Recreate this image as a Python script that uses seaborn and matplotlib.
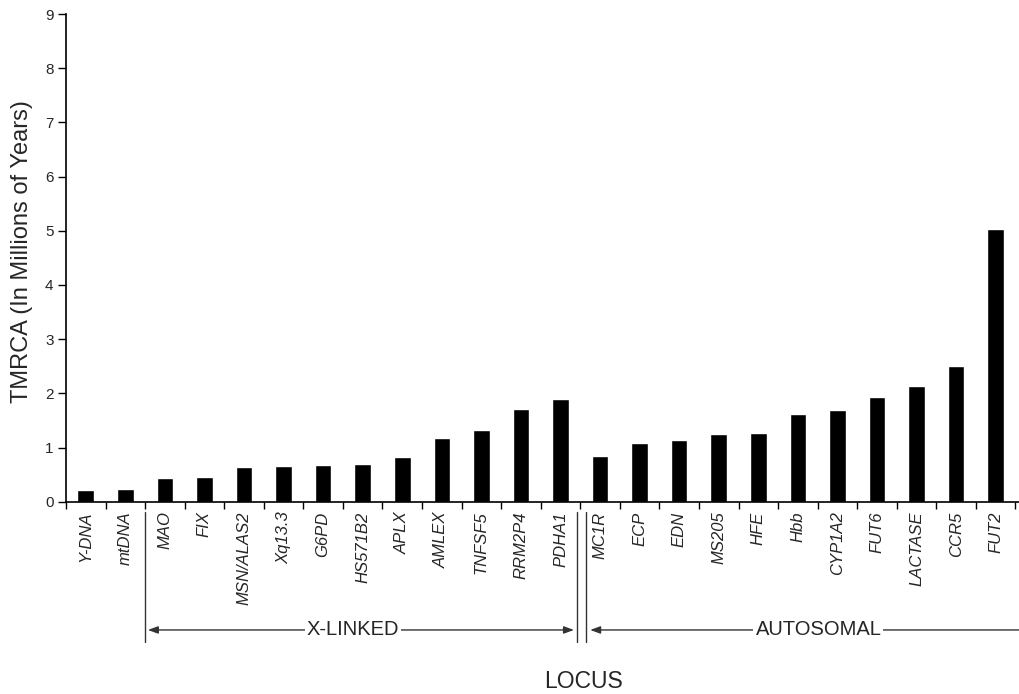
import numpy as np
import pandas as pd
import matplotlib
matplotlib.use("Agg")
import matplotlib.pyplot as plt
import seaborn as sns

# ── Données ────────────────────────────────────────────────────────────────
loci = ["Y-DNA", "mtDNA",
        "MAO", "FIX", "MSN/ALAS2", "Xq13.3", "G6PD", "HS571B2", "APLX",
        "AMLEX", "TNFSF5", "RRM2P4", "PDHA1",
        "MC1R", "ECP", "EDN", "MS205", "HFE", "Hbb", "CYP1A2", "FUT6",
        "LACTASE", "CCR5", "FUT2"]
tmrca = [0.21, 0.23,
         0.43, 0.45, 0.64, 0.66, 0.68, 0.70, 0.82,
         1.17, 1.32, 1.71, 1.89,
         0.84, 1.08, 1.14, 1.25, 1.27, 1.62, 1.69, 1.93,
         2.13, 2.50, 5.03]
y_ticks = list(range(0, 10))

df = pd.DataFrame({"locus": loci, "tmrca": tmrca})

sns.set_style("ticks")
plt.rcParams["font.family"] = ["Liberation Sans", "DejaVu Sans"]

fig = plt.figure(figsize=(10.2, 6.94), dpi=100)
ax = fig.add_axes([66 / 1020, 1 - 501.7 / 694, (1019 - 66) / 1020, (501.7 - 14) / 694])

sns.barplot(data=df, x="locus", y="tmrca", color="black", saturation=1,
            width=0.42, ax=ax)

n = len(loci)
ax.set_xlim(-0.5, 23.59)
ax.set_ylim(0, 9)
ax.set_yticks(y_ticks)
ax.tick_params(axis="y", labelsize=11, length=6, width=1, pad=3, color="black")

# ticks entre les barres, labels au centre
ax.set_xticks(np.arange(n))
ax.set_xticklabels(loci, rotation=90, fontsize=12, style="italic",
                   ha="center", va="top")
ax.set_xticks(np.arange(n + 1) - 0.5, minor=True)
ax.tick_params(axis="x", which="major", length=0, pad=7)
ax.tick_params(axis="x", which="minor", length=5, width=1, color="black")

sns.despine(ax=ax)
for sp in ["left", "bottom"]:
    ax.spines[sp].set_color("black")
    ax.spines[sp].set_linewidth(1.2)

ax.set_ylabel("TMRCA (In Millions of Years)", fontsize=17)
ax.yaxis.set_label_coords(-0.035, 0.513)
ax.set_xlabel("")

# ── Annotations X-LINKED / AUTOSOMAL ───────────────────────────────────────
trans = ax.get_xaxis_transform()
lc = "#333333"
y_top, y_bot, y_arr = -0.021, -0.288, -0.263

for xv in [1.5, 12.42, 12.64]:
    ax.plot([xv, xv], [y_top, y_bot], transform=trans, color=lc, lw=1,
            clip_on=False)

arr = dict(lw=1, color=lc, shrinkA=0, shrinkB=0)
ax.annotate("", xy=(1.57, y_arr), xytext=(12.34, y_arr), xycoords=trans,
            textcoords=trans,
            arrowprops=dict(arrowstyle="<|-|>,head_length=0.6,head_width=0.22", **arr))
ax.annotate("", xy=(12.75, y_arr), xytext=(23.62, y_arr), xycoords=trans,
            textcoords=trans,
            arrowprops=dict(arrowstyle="-|>,head_length=0.6,head_width=0.22", **arr))

box = dict(facecolor="white", edgecolor="none", pad=1.5)
ax.text(6.75, y_arr, "X-LINKED", transform=trans, ha="center", va="center",
        fontsize=14.5, bbox=box)
ax.text(18.52, y_arr, "AUTOSOMAL", transform=trans, ha="center", va="center",
        fontsize=14.5, bbox=box)

# LOCUS
ax.text(12.57, (501.7 - 688) / 487.7, "LOCUS", transform=trans,
        ha="center", va="baseline", fontsize=16.5)

fig.savefig("out.png", dpi=100)
